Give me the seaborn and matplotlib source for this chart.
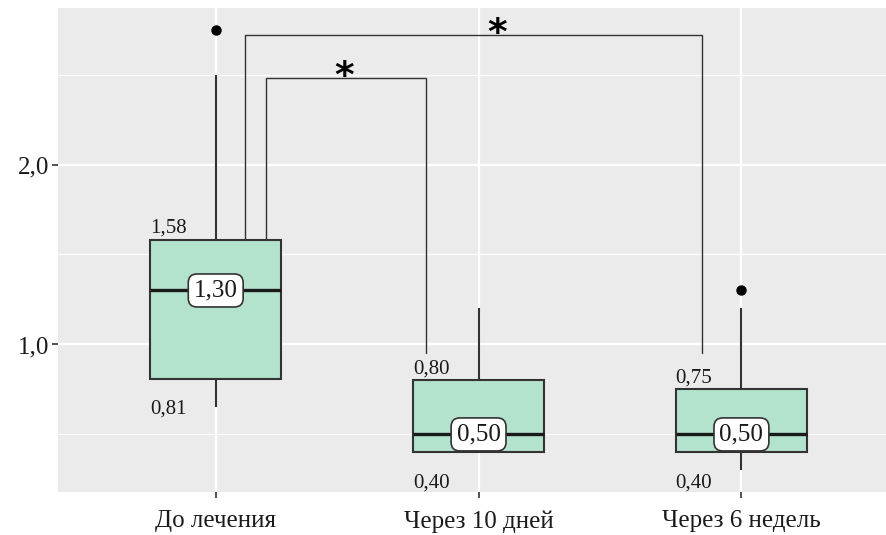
import numpy as np
import pandas as pd
import matplotlib
matplotlib.use("Agg")
import matplotlib.pyplot as plt
import seaborn as sns

# ---- data ----
categories = ["До лечения", "Через 10 дней", "Через 6 недель"]
whisker_low = [0.65, 0.40, 0.30]
q1 = [0.81, 0.40, 0.40]
median = [1.30, 0.50, 0.50]
q3 = [1.58, 0.80, 0.75]
whisker_high = [2.50, 1.20, 1.20]
outliers = [[2.75], [], [1.30]]

# significance brackets: (x_left, x_right, y_top, y_left_end, y_right_end, star_x)
brackets = [
    (0.19, 0.80, 2.48, 1.58, 0.95, 0.49),
    (0.11, 1.85, 2.72, 1.58, 0.95, 1.07),
]

y_ticks = [1.0, 2.0]
y_tick_labels = ["1,0", "2,0"]


def fmt(v):
    return f"{v:.2f}".replace(".", ",")


# build per-group samples whose quartiles are the values read above
rows = []
for cat, wl, a, m, b, wh, out in zip(categories, whisker_low, q1, median, q3,
                                     whisker_high, outliers):
    vals = [wl, a, a, m, m, b, b, wh] + list(out)
    while len(vals) < 9:
        vals.append(wh)
    rows += [(cat, v) for v in vals]
df = pd.DataFrame(rows, columns=["group", "value"])

sns.set_style("white")
serif = ["Liberation Serif", "DejaVu Serif"]

fig = plt.figure(figsize=(8.86, 5.35), dpi=100)
ax = fig.add_axes([58 / 886, 43 / 535, 1 - 58 / 886, (492 - 8) / 535])
ax.set_facecolor("#ebebeb")
for s in ax.spines.values():
    s.set_visible(False)

# grid
for y in [0.5, 1.5, 2.5]:
    ax.axhline(y, color="white", lw=0.8, zorder=0)
for y in y_ticks:
    ax.axhline(y, color="white", lw=1.6, zorder=0)
for x in range(len(categories)):
    ax.axvline(x, color="white", lw=1.6, zorder=0)

sns.boxplot(
    data=df, x="group", y="value", order=categories, ax=ax,
    width=0.5, color="#b3e2cd", saturation=1, linecolor="#333333",
    linewidth=1.5, showcaps=False,
    flierprops=dict(marker="o", markerfacecolor="black",
                    markeredgecolor="black", markersize=6.5),
    medianprops=dict(color="#1a1a1a", linewidth=2.4),
)

# value labels
for i in range(len(categories)):
    ax.text(i - 0.25, q3[i] + 0.065, fmt(q3[i]), ha="left", va="center",
            fontsize=15, family=serif, color="#1a1a1a")
    ax.text(i - 0.25, q1[i] - 0.17, fmt(q1[i]), ha="left", va="center",
            fontsize=15, family=serif, color="#1a1a1a")
    ax.text(i, median[i], fmt(median[i]), ha="center", va="center",
            fontsize=18, family=serif, color="#1a1a1a", zorder=5,
            bbox=dict(boxstyle="round,pad=0.22,rounding_size=0.35",
                      fc="white", ec="#333333", lw=1.2))

# brackets
for xl, xr, yt, yle, yre, sx in brackets:
    ax.plot([xl, xl, xr, xr], [yle, yt, yt, yre], color="#333333", lw=1.0,
            zorder=4)
    ax.annotate("*", xy=(sx, yt), xytext=(0, -6.5), textcoords="offset points",
                ha="center", va="baseline", fontsize=27, fontweight="bold",
                color="black", family=["DejaVu Sans"])

ax.set_xlim(-0.6, 2.55)
ax.set_ylim(0.18, 2.87)
ax.set_yticks(y_ticks)
ax.set_yticklabels(y_tick_labels, family=serif, fontsize=18, color="#1a1a1a")
ax.set_xticks(range(len(categories)))
ax.set_xticklabels(categories, family=serif, fontsize=18, color="#1a1a1a")
ax.tick_params(axis="both", length=4, width=1.2, color="#333333",
               direction="out", left=True, bottom=True)
ax.tick_params(axis="x", pad=9)
ax.tick_params(axis="y", pad=2)
ax.set_xlabel("")
ax.set_ylabel("")

fig.savefig("out.png", dpi=100, facecolor="white")
